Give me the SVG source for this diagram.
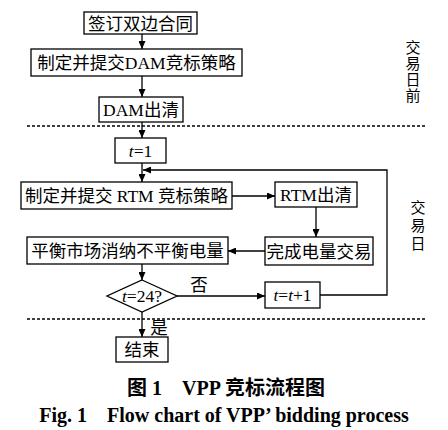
<svg xmlns="http://www.w3.org/2000/svg" width="448" height="430" viewBox="0 0 448 430">
<defs>
<marker id="ah" markerUnits="userSpaceOnUse" markerWidth="9" markerHeight="7" refX="8" refY="3.5" orient="auto">
<path d="M0,0 L8,3.5 L0,7 z" fill="#000"/>
</marker>
<style>
.b{fill:#fff;stroke:#000;stroke-width:1.3}
.t{font-family:"Liberation Serif","Noto Sans CJK SC",serif;font-size:17.5px;fill:#000;text-anchor:middle}
.a{fill:none;stroke:#000;stroke-width:1.3;marker-end:url(#ah)}
.d{fill:none;stroke:#000;stroke-width:1.6;stroke-dasharray:3,2}
.s{font-family:"Liberation Serif","Noto Sans CJK SC",serif;font-size:15px;fill:#000;text-anchor:middle}
.cap{font-family:"Liberation Serif","Noto Sans CJK SC",serif;font-size:20px;font-weight:bold;fill:#000;text-anchor:middle}
</style>
</defs>
<rect width="448" height="430" fill="#fff"/>
<g id="connectors">
<line class="a" x1="142" y1="34" x2="142" y2="49"/>
<line class="a" x1="142" y1="76" x2="142" y2="97"/>
<line class="a" x1="142" y1="122" x2="142" y2="138"/>
<line class="a" x1="142" y1="163" x2="142" y2="182"/>
<polyline class="a" points="320,295 387,295 387,170 143,170"/>
<line class="a" x1="232" y1="196" x2="275" y2="196"/>
<line class="a" x1="316" y1="207" x2="316" y2="237"/>
<line class="a" x1="265" y1="251" x2="228" y2="251"/>
<line class="a" x1="142" y1="264" x2="142" y2="280"/>
<line class="a" x1="177" y1="296" x2="265" y2="296"/>
<line class="a" x1="142" y1="312" x2="142" y2="337"/>
<text class="t" x="199" y="291">否</text>
<text class="t" x="159" y="334">是</text>
</g>
<line class="d" x1="27" y1="126" x2="425" y2="126"/>
<line class="d" x1="27" y1="319" x2="425" y2="319"/>
<g id="n1"><rect class="b" x="84" y="12" width="113" height="22"/><text class="t" x="140.5" y="29.5">签订双边合同</text></g>
<g id="n2"><rect class="b" x="31" y="49" width="211" height="27"/><text class="t" x="136.5" y="68.5">制定并提交DAM竞标策略</text></g>
<g id="n3"><rect class="b" x="99" y="97" width="84" height="25"/><text class="t" x="141" y="115.5">DAM出清</text></g>
<g id="n4"><rect class="b" x="115" y="138" width="51" height="25"/><text class="t" x="140.5" y="156.5"><tspan font-style="italic">t</tspan>=1</text></g>
<g id="n5"><rect class="b" x="21" y="182" width="211" height="27"/><text class="t" x="126.5" y="201.5">制定并提交 RTM 竞标策略</text></g>
<g id="n6"><rect class="b" x="275" y="182" width="82" height="25"/><text class="t" x="316" y="200.5">RTM出清</text></g>
<g id="n7"><rect class="b" x="265" y="237" width="108" height="28"/><text class="t" x="319" y="257.5">完成电量交易</text></g>
<g id="n8"><rect class="b" x="27" y="237" width="201" height="27"/><text class="t" x="127.5" y="256.5">平衡市场消纳不平衡电量</text></g>
<g id="n9"><polygon class="b" points="142,280 177,296 142,312 107,296"/><text class="t" x="142" y="302"><tspan font-style="italic">t</tspan>=24?</text></g>
<g id="n10"><rect class="b" x="265" y="282" width="55" height="26"/><text class="t" x="292.5" y="300.5"><tspan font-style="italic">t</tspan>=<tspan font-style="italic">t</tspan>+1</text></g>
<g id="n11"><rect class="b" x="116" y="337" width="52" height="25"/><text class="t" x="142" y="355.5">结束</text></g>
<g id="side1"><text class="s" x="413" y="53">交</text><text class="s" x="413" y="69">易</text><text class="s" x="413" y="85">日</text><text class="s" x="413" y="101">前</text></g>
<g id="side2"><text class="s" x="418" y="213">交</text><text class="s" x="418" y="231">易</text><text class="s" x="418" y="249">日</text></g>
<g id="caption">
<text class="cap" x="226" y="395" xml:space="preserve">图 1    VPP 竞标流程图</text>
<text class="cap" x="224" y="422" xml:space="preserve">Fig. 1    Flow chart of VPP’ bidding process</text>
</g>
</svg>
